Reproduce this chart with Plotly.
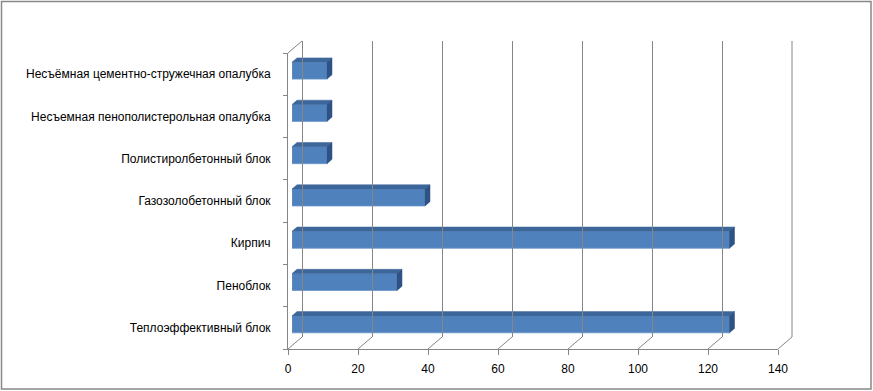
import plotly.graph_objects as go

# ---- data (bottom to top, as in the chart) ----
categories = [
    "Теплоэффективный блок",
    "Пеноблок",
    "Кирпич",
    "Газозолобетонный блок",
    "Полистиролбетонный блок",
    "Несъемная пенополистерольная опалубка",
    "Несъёмная цементно-стружечная опалубка",
]
values = [125, 30, 125, 38, 10, 10, 10]
x_ticks = [0, 20, 40, 60, 80, 100, 120, 140]

# ---- geometry (pixels) ----
W, H = 873, 391
L, R, T, B = 288, 81, 41, 42
PW = W - L - R          # 504
PH = H - T - B          # 308
FW, FH = 490, 296       # front plane size
DX, DY = 14, 12         # full depth offset
BDX, BDY = 4, 3.5       # bar front-face depth
BAR_DEPTH_X, BAR_DEPTH_Y = 5, 4.3
XMAX = 140
n = len(categories)

def px_x(p):
    return p / PW

def px_y(p):
    return p / PH

ypos = list(range(n))
bar_w = 0.4
xu = FW / XMAX          # px per x unit
yu = FH / n             # px per category
ddx = BAR_DEPTH_X / xu
ddy = BAR_DEPTH_Y / yu

front_blue = "#4F81BD"
top_blue = "#3D679A"
side_blue = "#2D5283"
grid = "#868686"

fig = go.Figure()

# invisible traces so the front and back axes exist
fig.add_trace(go.Scatter(x=[0], y=[0], mode="markers", marker=dict(opacity=0),
                         xaxis="x3", yaxis="y3", hoverinfo="skip", showlegend=False))
fig.add_trace(go.Scatter(x=[0], y=[0], mode="markers", marker=dict(opacity=0),
                         xaxis="x", yaxis="y", hoverinfo="skip", showlegend=False))

# top faces and right faces computed from the values
tx, ty, sx, sy = [], [], [], []
for v, yc in zip(values, ypos):
    yt = yc + bar_w / 2
    yb = yc - bar_w / 2
    tx += [0, v, v + ddx, ddx, 0, None]
    ty += [yt, yt, yt + ddy, yt + ddy, yt, None]
    sx += [v, v, v + ddx, v + ddx, v, None]
    sy += [yb, yt, yt + ddy, yb + ddy, yb, None]

fig.add_trace(go.Scatter(x=tx, y=ty, mode="lines", fill="toself",
                         fillcolor=top_blue, line=dict(color=top_blue, width=0.5),
                         xaxis="x2", yaxis="y2", hoverinfo="skip", showlegend=False))
fig.add_trace(go.Scatter(x=sx, y=sy, mode="lines", fill="toself",
                         fillcolor=side_blue, line=dict(color=side_blue, width=0.5),
                         xaxis="x2", yaxis="y2", hoverinfo="skip", showlegend=False))

# front faces
fig.add_trace(go.Bar(
    x=values, y=ypos, orientation="h", width=bar_w,
    marker=dict(color=front_blue, line=dict(color="#6A96CC", width=0.8)),
    xaxis="x2", yaxis="y2", hoverinfo="skip", showlegend=False,
))

font = dict(family="Liberation Sans, Arial, sans-serif", size=12, color="#000000")

hidden = dict(showticklabels=False, ticks="", showgrid=False, zeroline=False,
              showline=False, fixedrange=True)

fig.update_layout(
    width=W, height=H,
    margin=dict(l=L, r=R, t=T, b=B, pad=0),
    paper_bgcolor="white", plot_bgcolor="rgba(0,0,0,0)",
    font=font,
    showlegend=False,
    barmode="overlay",
    # front axes (labels, ticks)
    xaxis=dict(domain=[0, px_x(FW)], range=[0, XMAX], anchor="y",
               tickmode="array", tickvals=x_ticks, ticktext=[str(t) for t in x_ticks],
               showgrid=False, zeroline=False, showline=True, linecolor=grid, linewidth=1,
               ticks="outside", ticklen=5, tickcolor=grid, ticklabelstandoff=4,
               tickfont=font, fixedrange=True),
    yaxis=dict(domain=[0, px_y(FH)], range=[-0.5, n - 0.5], anchor="x",
               tickmode="array", tickvals=ypos, ticktext=categories, ticks="",
               minor=dict(tickmode="array", tickvals=[i - 0.5 for i in range(n + 1)],
                          ticks="outside", ticklen=4, tickcolor=grid, showgrid=False),
               showgrid=False, zeroline=False, showline=True, linecolor=grid, linewidth=1,
               ticklabelstandoff=14, tickfont=font, fixedrange=True),
    # bar axes (slightly in depth)
    xaxis2=dict(domain=[px_x(BDX), px_x(BDX + FW)], range=[0, XMAX], anchor="y2",
                autorange=False, **hidden),
    yaxis2=dict(domain=[px_y(BDY), px_y(BDY + FH)], range=[-0.5, n - 0.5], anchor="x2",
                autorange=False, **hidden),
    # back wall axes (gridlines)
    xaxis3=dict(domain=[px_x(DX), px_x(DX + FW)], range=[0, XMAX], anchor="y3",
                autorange=False, tickmode="array", tickvals=x_ticks,
                showticklabels=False, ticks="",
                showgrid=True, gridcolor=grid, gridwidth=1,
                zeroline=True, zerolinecolor=grid, zerolinewidth=1,
                showline=False, fixedrange=True),
    yaxis3=dict(domain=[px_y(DY), px_y(DY + FH)], range=[-0.5, n - 0.5], anchor="x3",
                autorange=False, showticklabels=False, ticks="", showgrid=False,
                zeroline=False, showline=False, fixedrange=True),
)

shapes = []
# floor diagonals for each x tick
for t in x_ticks:
    xf = px_x(t * xu)
    shapes.append(dict(type="line", xref="paper", yref="paper",
                       x0=xf, y0=0, x1=xf + px_x(DX), y1=px_y(DY),
                       line=dict(color=grid, width=1), layer="below"))
# right back edge
shapes.append(dict(type="line", xref="paper", yref="paper",
                   x0=px_x(DX + FW), y0=px_y(DY), x1=px_x(DX + FW), y1=px_y(DY + FH),
                   line=dict(color=grid, width=1), layer="below"))
# left wall top diagonal
shapes.append(dict(type="line", xref="paper", yref="paper",
                   x0=0, y0=px_y(FH), x1=px_x(DX), y1=px_y(DY + FH),
                   line=dict(color=grid, width=1), layer="below"))
# chart border
shapes.append(dict(type="rect", xref="paper", yref="paper",
                   x0=px_x(1.5 - L), x1=px_x(871 - L),
                   y0=px_y((H - B) - 389), y1=px_y((H - B) - 1.5),
                   line=dict(color="#888888", width=1.5), fillcolor="rgba(0,0,0,0)"))
fig.update_layout(shapes=shapes)

fig.write_html("out.html",
               config={"displayModeBar": False, "staticPlot": True},
               post_script="document.body.style.margin='0';document.body.style.overflow='hidden';")
